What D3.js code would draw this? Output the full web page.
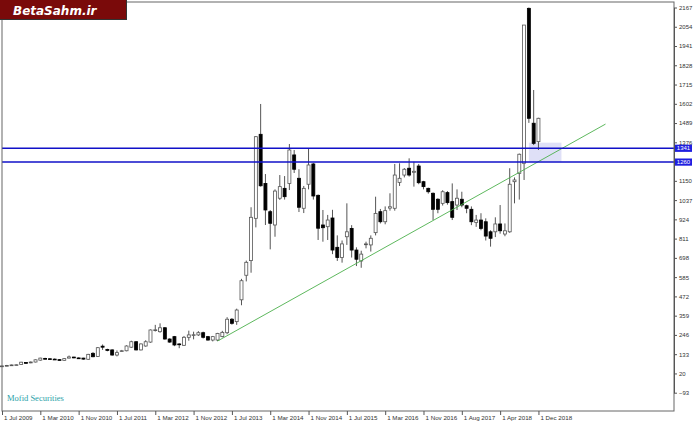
<!DOCTYPE html>
<html><head><meta charset="utf-8">
<script src="https://cdn.jsdelivr.net/npm/d3@7"></script>
<style>body{margin:0;background:#fff}svg{display:block}</style>
</head><body>
<svg id="c" width="700" height="425"></svg>
<script>
const months = [
"2009-07","2009-08","2009-09","2009-10","2009-11","2009-12",
"2010-01","2010-02","2010-03","2010-04","2010-05","2010-06","2010-07","2010-08","2010-09","2010-10","2010-11","2010-12",
"2011-01","2011-02","2011-03","2011-04","2011-05","2011-06","2011-07","2011-08","2011-09","2011-10","2011-11","2011-12",
"2012-01","2012-02","2012-03","2012-04","2012-05","2012-06","2012-07","2012-08","2012-09","2012-10","2012-11","2012-12",
"2013-01","2013-02","2013-03","2013-04","2013-05","2013-06","2013-07","2013-08","2013-09","2013-10","2013-11","2013-12",
"2014-01","2014-02","2014-03","2014-04","2014-05","2014-06","2014-07","2014-08","2014-09","2014-10","2014-11","2014-12",
"2015-01","2015-02","2015-03","2015-04","2015-05","2015-06","2015-07","2015-08","2015-09","2015-10","2015-11","2015-12",
"2016-01","2016-02","2016-03","2016-04","2016-05","2016-06","2016-07","2016-08","2016-09","2016-10","2016-11","2016-12",
"2017-01","2017-02","2017-03","2017-05","2017-06","2017-07","2017-08","2017-09","2017-10","2017-11","2017-12",
"2018-01","2018-02","2018-03","2018-04","2018-05","2018-06","2018-07","2018-08","2018-09","2018-10","2018-11","2018-12"];

const open = [63,64,67,70,72,84,82,87,98,108,
106,104,101,97,110,116,111,110,103,138,
120,180,160,158,128,150,153,174,206,158,
181,204,272,265,288,222,236,193,185,232,
245,246,259,236,216,216,236,259,338,324,
452,596,682,930,1423,1135,969,891,1048,1106,
1135,1302,1165,989,1130,1249,1065,891,881,932,
760,700,822,871,744,680,776,774,846,969,
910,990,989,1141,1184,1224,1200,1237,1145,1106,
1077,1042,1018,1081,1028,1008,1042,1004,983,905,
920,910,851,851,897,838,851,1145,1194,1253,
2162,1488,1380];

const high = [66,70,72,73,88,86,90,102,112,112,
110,108,104,110,125,118,114,112,135,145,
175,190,165,162,155,158,185,212,210,196,
215,278,305,314,292,226,240,197,240,271,
265,268,265,240,240,258,270,350,345,400,
575,682,995,1413,1601,1190,979,1100,1184,1178,
1366,1331,1218,1120,1341,1255,1070,979,950,980,
830,800,1018,890,760,740,793,830,1057,985,
1000,1077,1249,1253,1225,1282,1262,1249,1150,1110,
1082,1048,1095,1090,1135,1100,1086,1010,1000,950,
960,930,860,936,1008,900,1224,1170,1310,2064,
2167,1683,1520];

const low = [60,62,65,67,70,78,80,85,95,103,
100,99,96,95,108,109,106,101,100,115,
117,158,150,124,120,146,150,170,155,155,
177,200,266,259,218,200,180,168,182,212,
220,240,225,212,208,210,232,250,306,305,
420,560,611,877,1116,891,748,822,1038,1040,
1096,1196,967,961,1100,1040,803,793,803,720,
680,670,774,700,650,640,754,735,830,900,
895,975,975,1120,1170,1175,1116,1130,1100,1075,
920,960,1005,1010,920,979,995,960,890,880,
860,800,764,820,840,825,845,1018,1040,1155,
1490,1360,1331];

const close = [64,67,70,71,86,82,87,100,110,106,
104,102,99,107,117,112,109,104,132,118,
171,174,157,128,142,153,181,206,158,193,
206,275,276,288,222,204,187,191,232,246,
247,259,232,216,236,255,261,338,314,392,
564,672,936,1409,1121,979,901,1090,1116,1057,
1331,1218,995,1106,1243,1061,872,875,920,744,
700,780,851,744,690,720,780,813,959,910,
975,998,1184,1165,1218,1184,1206,1139,1116,1086,
983,983,1086,1022,936,1048,1008,989,910,920,
871,826,813,897,857,857,1130,1155,1306,2064,
1517,1370,1517];

const xTickIndex = [0,8,16,24,32,40,48,56,64,72,80,88,96,104,112];
const xTickLabels = ["1 Jul 2009","1 Mar 2010","1 Nov 2010","1 Jul 2011","1 Mar 2012","1 Nov 2012","1 Jul 2013","1 Mar 2014","1 Nov 2014","1 Jul 2015","1 Mar 2016","1 Nov 2016","1 Aug 2017","1 Apr 2018","1 Dec 2018"];
const yTicks = [2167,2054,1941,1828,1715,1602,1489,1376,1150,1037,924,811,698,585,472,359,246,133,20,-93];
const levels = [1341, 1260];
const trendPts = [[45, 210], [126, 1483]];
const zone = {i0: 110, i1: 116.8, v0: 1262, v1: 1374};

(function(){
const svg = d3.select("#c");
const pL = 2, pR = 674, pT = 2, pB = 411;
const x = d3.scaleLinear().domain([0, 140.3]).range([pL, pR]);
const y = d3.scaleLinear().domain([-93, 2167]).range([392.7, 7.5]);

const data = months.map((m, i) => ({i, m, o: open[i], h: high[i], l: low[i], c: close[i]}));

svg.append("rect")
  .attr("x", x(zone.i0)).attr("width", x(zone.i1) - x(zone.i0))
  .attr("y", y(zone.v1)).attr("height", y(zone.v0) - y(zone.v1))
  .attr("fill", "#dfe0f7");

const g = svg.append("g");
g.selectAll("line.w").data(data).join("line").attr("class", "w")
  .attr("x1", d => x(d.i)).attr("x2", d => x(d.i))
  .attr("y1", d => y(d.h)).attr("y2", d => y(d.l))
  .attr("stroke", "#555").attr("stroke-width", 1);
g.selectAll("rect.b").data(data).join("rect").attr("class", "b")
  .attr("x", d => x(d.i) - 1.5).attr("width", 3)
  .attr("y", d => y(Math.max(d.o, d.c)))
  .attr("height", d => Math.max(0.8, Math.abs(y(d.o) - y(d.c))))
  .attr("fill", d => d.c >= d.o ? "#fff" : "#000")
  .attr("stroke", d => d.c >= d.o ? "#555" : "#000")
  .attr("stroke-width", 0.8);

svg.append("line")
  .attr("x1", x(trendPts[0][0])).attr("y1", y(trendPts[0][1]))
  .attr("x2", x(trendPts[1][0])).attr("y2", y(trendPts[1][1]))
  .attr("stroke", "#4cb04c").attr("stroke-width", 0.9);

svg.selectAll("line.lv").data(levels).join("line").attr("class", "lv")
  .attr("x1", pL).attr("x2", pR)
  .attr("y1", d => y(d)).attr("y2", d => y(d))
  .attr("stroke", "#1010c8").attr("stroke-width", 1.5);

svg.append("rect").attr("x", pL).attr("y", pT).attr("width", pR - pL).attr("height", pB - pT)
  .attr("fill", "none").attr("stroke", "#666").attr("stroke-width", 1);

const ya = svg.append("g").attr("transform", `translate(${pR},0)`)
  .call(d3.axisRight(y).tickValues(yTicks).tickSize(3).tickSizeOuter(0).tickPadding(2).tickFormat(d3.format("d")));
ya.select(".domain").attr("stroke", "#555");
ya.selectAll(".tick line").attr("stroke", "#555");
ya.selectAll("text").attr("font-family", "Liberation Sans, Arial, sans-serif").attr("font-size", "6px").attr("fill", "#333");

const lg = svg.selectAll("g.lvl").data(levels).join("g").attr("class", "lvl")
  .attr("transform", d => `translate(${pR + 1},${y(d)})`);
lg.append("rect").attr("x", 0).attr("y", -3.6).attr("width", 17).attr("height", 7.2).attr("fill", "#1f1fe0");
lg.append("text").attr("x", 8.5).attr("y", 2.2).attr("text-anchor", "middle")
  .attr("font-family", "Liberation Sans, Arial, sans-serif").attr("font-size", "6px").attr("fill", "#fff")
  .text(d => d);

const xa = svg.append("g").attr("transform", `translate(0,${pB})`)
  .call(d3.axisBottom(x).tickValues(xTickIndex).tickSize(4).tickSizeOuter(0).tickPadding(1).tickFormat((d, i) => xTickLabels[i]));
xa.select(".domain").remove();
xa.selectAll(".tick line").attr("stroke", "#555");
xa.selectAll("text").attr("text-anchor", "start").attr("dx", "1.5").attr("dy", "0.6em")
  .attr("font-family", "Liberation Sans, Arial, sans-serif").attr("font-size", "6.2px").attr("fill", "#333");

svg.append("rect").attr("x", 0).attr("y", 0).attr("width", 126).attr("height", 19).attr("fill", "#7a0a0a");
svg.append("line").attr("x1", 126.5).attr("x2", 126.5).attr("y1", 0).attr("y2", 20).attr("stroke", "#333");
svg.append("line").attr("x1", 0).attr("x2", 127).attr("y1", 19.5).attr("y2", 19.5).attr("stroke", "#333");
svg.append("text").attr("x", 13).attr("y", 14.5)
  .attr("font-family", "DejaVu Sans, sans-serif").attr("font-weight", "bold").attr("font-style", "italic")
  .attr("font-size", "12px").attr("fill", "#fff").text("BetaSahm.ir");

svg.append("text").attr("x", 7).attr("y", 401)
  .attr("font-family", "Liberation Serif, Times New Roman, serif").attr("font-size", "8.5px")
  .attr("fill", "#2a9fa8").text("Mofid Securities");
})();
</script>
</body></html>
